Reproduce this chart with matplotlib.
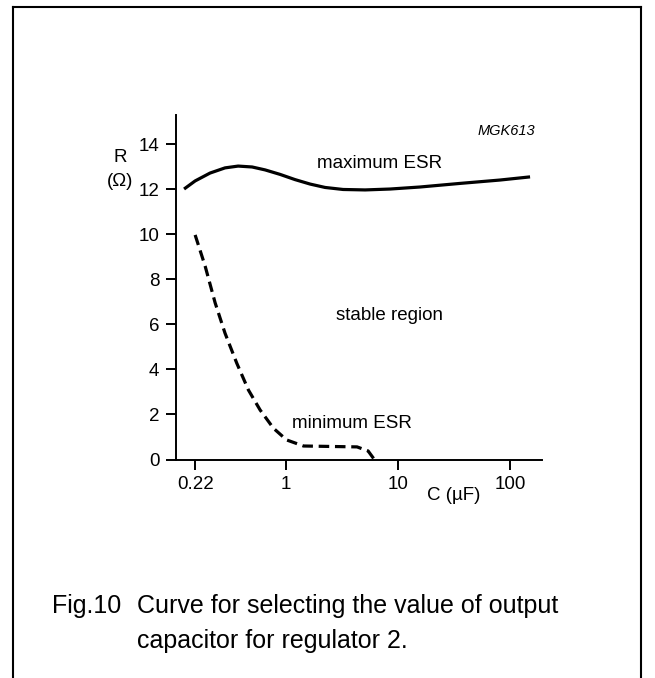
import numpy as np
import matplotlib
matplotlib.use("Agg")
import matplotlib.pyplot as plt
from matplotlib.lines import Line2D

plt.rcParams['font.family'] = ['Liberation Sans', 'DejaVu Sans']

# data (C in uF, R in ohm)
max_esr_c = [0.183, 0.22, 0.282, 0.362, 0.45, 0.568, 0.705, 0.905, 1.2, 1.64,
             2.23, 3.23, 5.08, 8.48, 15.7, 35.8, 81.4, 151]
max_esr_r = [12.02, 12.38, 12.73, 12.96, 13.04, 13.0, 12.87, 12.67, 12.44, 12.24,
             12.09, 12.0, 11.98, 12.02, 12.11, 12.27, 12.42, 12.56]

min_esr_c = [0.22, 0.26, 0.307, 0.362, 0.44, 0.534, 0.649, 0.81, 1.01, 1.43,
             2.47, 4.3, 5.4, 6.1]
min_esr_r = [9.98, 8.59, 6.96, 5.61, 4.28, 3.09, 2.2, 1.39, 0.87, 0.6,
             0.58, 0.56, 0.38, 0.02]

x_ticks = [0.22, 1, 10, 100]
x_tick_labels = ['0.22', '1', '10', '100']
y_ticks = [0, 2, 4, 6, 8, 10, 12, 14]

# the original drawing stretches the part below 1 uF
K = 0.8094


def fwd(c):
    l = np.log10(np.maximum(np.asarray(c, dtype=float), 1e-9))
    return np.where(l < 0, l / K, l)


def inv(p):
    p = np.asarray(p, dtype=float)
    return np.where(p < 0, 10 ** (p * K), 10 ** p)


W, H = 655, 678


def px(x, y):
    return x / W, 1 - y / H


fig = plt.figure(figsize=(W / 100, H / 100), dpi=100)
ax = fig.add_axes([176 / W, 1 - 459.5 / H, (542 - 176) / W, (459.5 - 115) / H])

ax.plot(max_esr_c, max_esr_r, color='black', lw=2.3, solid_capstyle='butt')
ax.plot(min_esr_c, min_esr_r, color='black', lw=2.3, dashes=(3.3, 1.8))

ax.set_xscale('function', functions=(fwd, inv))
ax.set_xlim(0.16, 193)
ax.set_ylim(0, 15.31)
ax.set_xticks(x_ticks)
ax.set_xticklabels(x_tick_labels)
ax.set_yticks(y_ticks)
ax.minorticks_off()

for s in ['top', 'right']:
    ax.spines[s].set_visible(False)
for s in ['left', 'bottom']:
    ax.spines[s].set_linewidth(1.4)
ax.tick_params(axis='both', direction='out', length=7, width=1.4, labelsize=13.5, pad=5)

fs = 13.5
fig.text(*px(120, 158), 'R', ha='center', va='center', fontsize=fs)
fig.text(*px(120, 182), '(Ω)', ha='center', va='center', fontsize=fs)
fig.text(*px(454, 496), 'C (µF)', ha='center', va='center', fontsize=fs)
fig.text(*px(506, 131), 'MGK613', ha='center', va='center', fontsize=10.5, style='italic')
fig.text(*px(380, 163), 'maximum ESR', ha='center', va='center', fontsize=fs)
fig.text(*px(389, 316), 'stable region', ha='center', va='center', fontsize=fs)
fig.text(*px(352, 423), 'minimum ESR', ha='center', va='center', fontsize=fs)

fig.text(*px(52, 606), 'Fig.10', ha='left', va='center', fontsize=18)
fig.text(*px(137, 606), 'Curve for selecting the value of output', ha='left', va='center', fontsize=18)
fig.text(*px(137, 641), 'capacitor for regulator 2.', ha='left', va='center', fontsize=18)

# frame around the whole figure
for xs, ys in [((13, 13), (7, 678)), ((13, 641), (7, 7)), ((641, 641), (7, 678))]:
    fig.add_artist(Line2D([x / W for x in xs], [1 - y / H for y in ys],
                          color='black', lw=1.5))

fig.savefig('out.png', dpi=100)
